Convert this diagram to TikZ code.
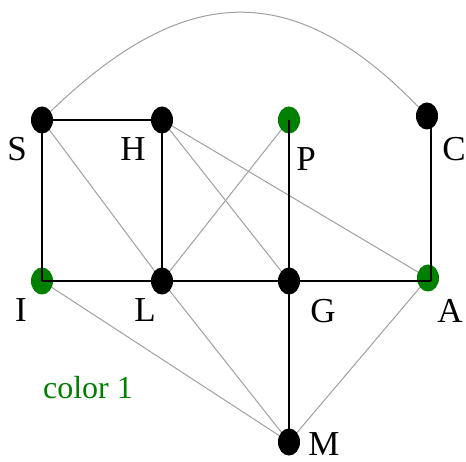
\documentclass[tikz,border=0pt]{standalone}
\usepackage{fontspec}
\setmainfont{Liberation Serif}
\definecolor{gnode}{HTML}{008000}
\definecolor{edgegray}{HTML}{A0A0A0}
\tikzset{
  vtx/.style={ellipse, inner sep=0pt, minimum width=22pt, minimum height=27pt, fill=black},
  gvtx/.style={vtx, fill=gnode},
  lbl/.style={font=\fontsize{35}{40}\selectfont, text=black, inner sep=0pt, anchor=base, text depth=0pt},
  heavy/.style={draw=black, line width=1.6pt},
  light/.style={draw=edgegray, line width=1pt},
}
\usetikzlibrary{shapes.geometric}
\begin{document}
\begin{tikzpicture}[x=1pt,y=-1pt]
\useasboundingbox (0,0) rectangle (466,462);
% coordinates
\coordinate (cS) at (42,120);
\coordinate (cH) at (162,120);
\coordinate (cP) at (289,120);
\coordinate (cC) at (427,116);
\coordinate (cI) at (42,281);
\coordinate (cL) at (162,281);
\coordinate (cG) at (289,281);
\coordinate (cA) at (428,278);
\coordinate (cM) at (289,442);
% light edges
\draw[light] (cS) .. controls (181,-19) and (294,-27) .. (cC);
\draw[light] (cS) -- (cL);
\draw[light] (cH) -- (cG);
\draw[light] (cH) -- (cA);
\draw[light] (cL) -- (cP);
\draw[light] (cI) -- (cM);
\draw[light] (cL) -- (cM);
\draw[light] (cA) -- (cM);
% nodes
\node[vtx]  (S) at (cS) {};
\node[vtx]  (H) at (cH) {};
\node[gvtx] (P) at (cP) {};
\node[vtx]  (C) at (cC) {};
\node[gvtx] (I) at (cI) {};
\node[vtx]  (L) at (cL) {};
\node[vtx]  (G) at (cG) {};
\node[gvtx] (A) at (cA) {};
\node[vtx]  (M) at (cM) {};
% heavy edges
\draw[heavy] (S.center) -- (H.center);
\draw[heavy] (S.center) -- (I.center);
\draw[heavy] (H.center) -- (L.center);
\draw[heavy] (I.center) -- (L.center);
\draw[heavy] (L.center) -- (G.center);
\draw[heavy] (G.center) -- (431,281) coordinate (cA2);
\draw[heavy] (P.center) -- (G.center);
\draw[heavy] (431,116) coordinate (cC2) -- (cA2);
\draw[heavy] (G.center) -- (M.center);
% labels
\node[lbl] (lS) at (17,161) {S};
\node[lbl] (lH) at (133,161) {H};
\node[lbl] (lP) at (306,171) {P};
\node[lbl] (lC) at (454,161) {C};
\node[lbl] (lI) at (21,322) {I};
\node[lbl] (lL) at (145,322) {L};
\node[lbl] (lG) at (323,323) {G};
\node[lbl] (lA) at (450,323) {A};
\node[lbl] (lM) at (324,455) {M};
\node[font=\fontsize{32}{36}\selectfont, text=gnode, inner sep=0pt, anchor=base, text depth=0pt] (c1) at (88,399) {color 1};
\end{tikzpicture}
\end{document}
